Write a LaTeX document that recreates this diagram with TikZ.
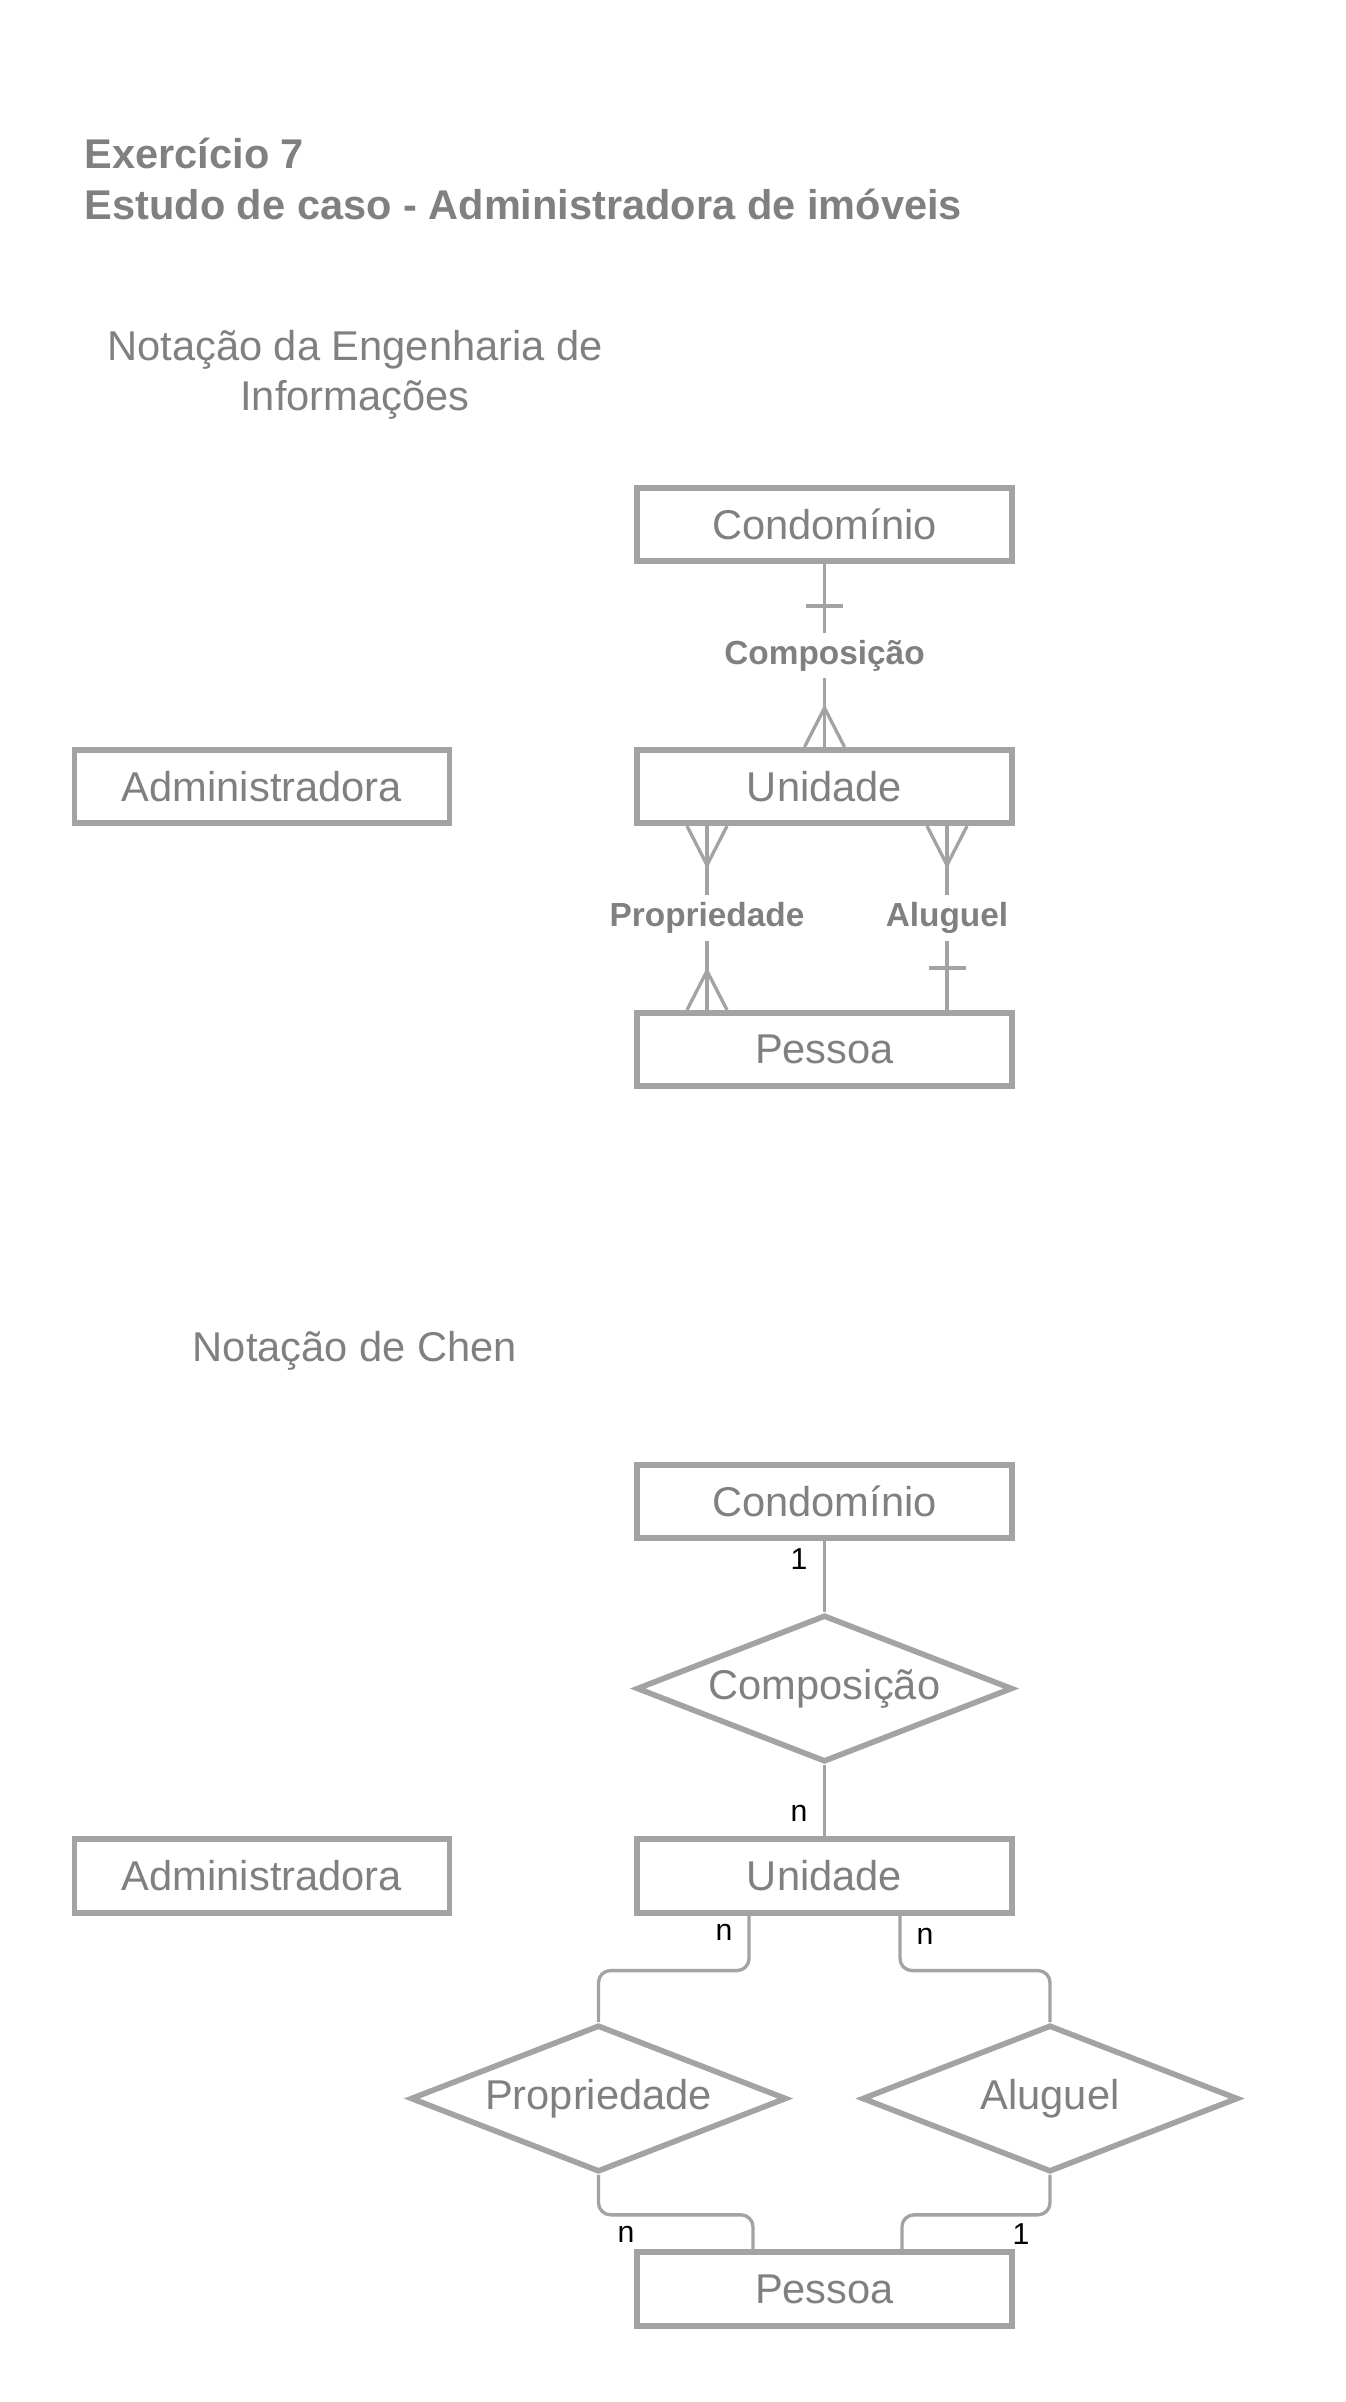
\documentclass[tikz,border=0pt]{standalone}
\usepackage{fontspec}
\setmainfont{Liberation Sans}
\usetikzlibrary{shapes.geometric}
\definecolor{linha}{RGB}{163,163,163}
\definecolor{texto}{RGB}{128,128,128}
\tikzset{
  titulo/.style={text=texto, font=\bfseries\fontsize{11.82}{14.5}\selectfont, align=left, inner sep=0pt},
  subtitulo/.style={text=texto, font=\fontsize{11.85}{14.2}\selectfont, align=center, inner sep=0pt},
  entidade/.style={draw=linha, line width=1.6pt, minimum width=3.75cm, minimum height=0.735cm, inner sep=0pt, text=texto, font=\fontsize{11.85}{14}\selectfont},
  relac/.style={diamond, draw=linha, line width=1.6pt, minimum width=3.76cm, minimum height=1.47cm, aspect=2.6, inner sep=0pt, text=texto, font=\fontsize{11.85}{14}\selectfont},
  rotulo/.style={fill=white, text=texto, font=\bfseries\fontsize{9.5}{11}\selectfont, inner xsep=2pt, inner ysep=2pt},
  card/.style={text=black, font=\fontsize{8.6}{10}\selectfont, inner sep=0pt},
  liga/.style={draw=linha, line width=0.95pt}
}
\begin{document}
\begin{tikzpicture}
\useasboundingbox (0,0) rectangle (13.46,-24.02);
% titulos
\node[titulo, anchor=west] (tit) at (0.84,-1.785) {Exercício 7\\Estudo de caso - Administradora de imóveis};
\node[subtitulo] (eng) at (3.55,-3.745) {Notação da Engenharia de\\Informações};
\node[subtitulo] (chen) at (3.55,-13.505) {Notação de Chen};
% engenharia de informacoes
\node[entidade] (cond) at (8.245,-5.245) {Condomínio};
\node[entidade] (unid) at (8.245,-7.865) {Unidade};
\node[entidade] (pess) at (8.245,-10.495) {Pessoa};
\node[entidade] (adm) at (2.62,-7.865) {Administradora};
\draw[liga] (cond) -- (unid) node[rotulo, midway] {Composição};
\draw[liga] ([xshift=-1.175cm]unid.south) -- ([xshift=-1.175cm]pess.north) node[rotulo, midway] {Propriedade};
\draw[liga] ([xshift=1.225cm]unid.south) -- ([xshift=1.225cm]pess.north) node[rotulo, midway] {Aluguel};
% um
\draw[liga] ([xshift=-0.185cm,yshift=-0.42cm]cond.south) -- ([xshift=0.185cm,yshift=-0.42cm]cond.south);
\draw[liga] ([xshift=1.04cm,yshift=0.42cm]pess.north) -- ([xshift=1.41cm,yshift=0.42cm]pess.north);
% muitos
\draw[liga] ([xshift=-0.2cm]unid.north) -- ([yshift=0.39cm]unid.north) -- ([xshift=0.2cm]unid.north);
\draw[liga] ([xshift=-1.375cm]unid.south) -- ([xshift=-1.175cm,yshift=-0.39cm]unid.south) -- ([xshift=-0.975cm]unid.south);
\draw[liga] ([xshift=1.025cm]unid.south) -- ([xshift=1.225cm,yshift=-0.39cm]unid.south) -- ([xshift=1.425cm]unid.south);
\draw[liga] ([xshift=-1.375cm]pess.north) -- ([xshift=-1.175cm,yshift=0.39cm]pess.north) -- ([xshift=-0.975cm]pess.north);
% chen
\node[entidade] (cond2) at (8.245,-15.015) {Condomínio};
\node[relac] (comp) at (8.245,-16.885) {Composição};
\node[entidade] (unid2) at (8.245,-18.76) {Unidade};
\node[entidade] (adm2) at (2.62,-18.76) {Administradora};
\node[relac] (prop) at (5.985,-20.985) {Propriedade};
\node[relac] (alug) at (10.50,-20.985) {Aluguel};
\node[entidade] (pess2) at (8.245,-22.89) {Pessoa};
\draw[liga] (cond2) -- (comp);
\draw[liga] (comp) -- (unid2);
\draw[liga, rounded corners=0.12cm] ([xshift=-0.755cm]unid2.south) -- ++(0,-0.55) -| (prop.north);
\draw[liga, rounded corners=0.12cm] ([xshift=0.755cm]unid2.south) -- ++(0,-0.55) -| (alug.north);
\draw[liga, rounded corners=0.12cm] (prop.south) -- ++(0,-0.40) -| ([xshift=-0.715cm]pess2.north);
\draw[liga, rounded corners=0.12cm] (alug.south) -- ++(0,-0.40) -| ([xshift=0.775cm]pess2.north);
\node[card] (c1) at (7.99,-15.59) {1};
\node[card] (c2) at (7.99,-18.13) {n};
\node[card] (c3) at (7.24,-19.32) {n};
\node[card] (c4) at (9.25,-19.36) {n};
\node[card] (c5) at (6.26,-22.34) {n};
\node[card] (c6) at (10.21,-22.34) {1};
\end{tikzpicture}
\end{document}
